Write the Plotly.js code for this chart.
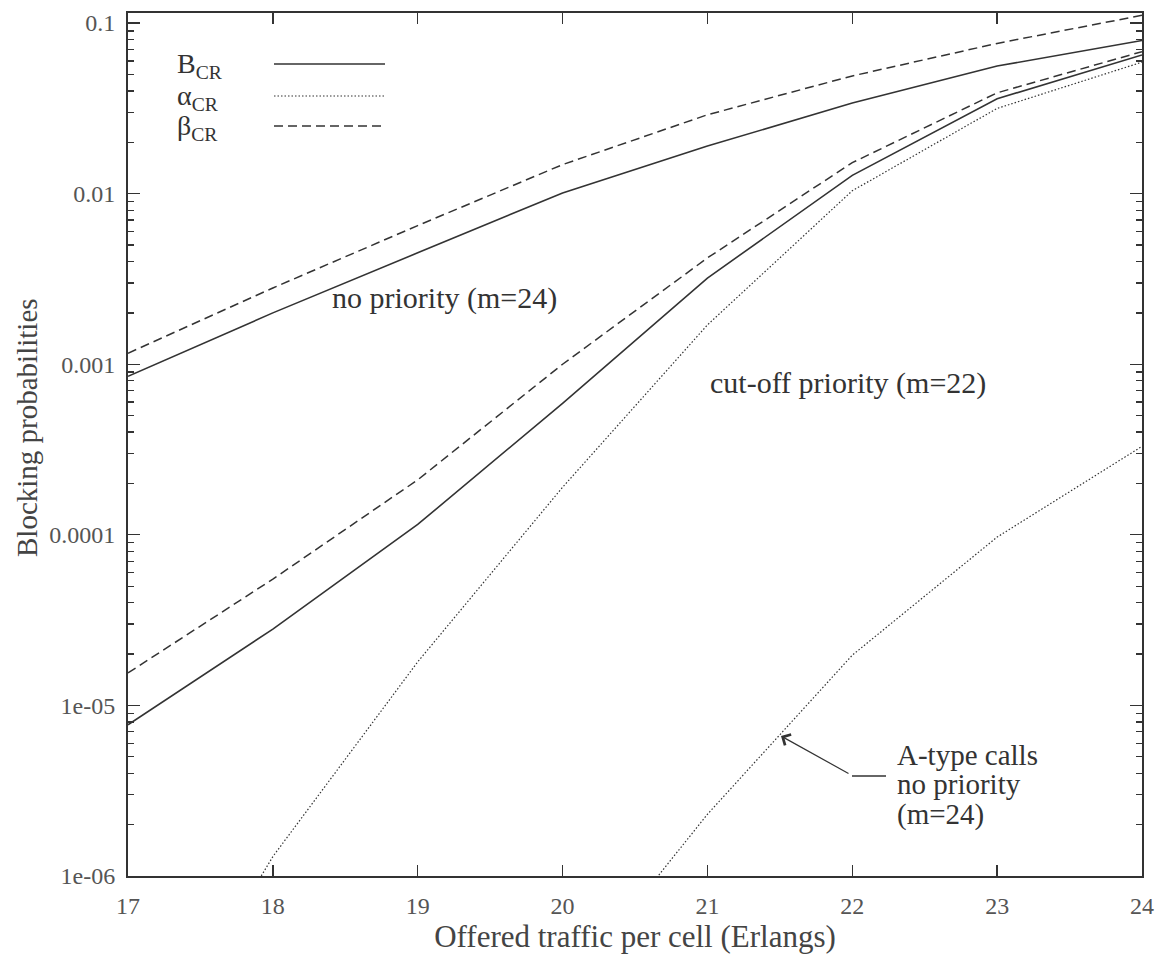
<!DOCTYPE html>
<html>
<head>
<meta charset="utf-8">
<script src="https://cdn.plot.ly/plotly-3.0.1.min.js"></script>
<style>html,body{margin:0;padding:0;background:#fff;}#chart{width:1164px;height:962px;}</style>
</head>
<body>
<div id="chart"></div>
<script>
// ---- data ----
const traffic = [17, 18, 19, 20, 21, 22, 23, 24];
const noPriorityB = [0.00085, 0.002, 0.0045, 0.0101, 0.019, 0.034, 0.056, 0.079];
const noPriorityBeta = [0.00116, 0.0028, 0.0065, 0.0148, 0.029, 0.049, 0.076, 0.111];
const trafficAType = [20, 21, 22, 23, 24];
const noPriorityAlpha = [2e-7, 2.3e-6, 1.97e-5, 9.7e-5, 3.3e-4];
const cutoffB = [7.7e-6, 2.8e-5, 1.15e-4, 5.9e-4, 3.2e-3, 0.0128, 0.036, 0.065];
const cutoffBeta = [1.55e-5, 5.5e-5, 2.1e-4, 1.0e-3, 4.2e-3, 0.0152, 0.039, 0.068];
const cutoffAlpha = [5e-8, 1.3e-6, 1.8e-5, 1.9e-4, 1.7e-3, 0.0104, 0.0316, 0.059];

const yTickVals = [1e-6, 1e-5, 1e-4, 1e-3, 1e-2, 1e-1];
const yTickText = ['1e-06', '1e-05', '0.0001', '0.001', '0.01', '0.1'];
const xTickVals = [17, 18, 19, 20, 21, 22, 23, 24];
const xTickText = ['17', '18', '19', '20', '21', '22', '23', '24'];

const legendLabels = ['B<sub>CR</sub>', 'α<sub>CR</sub>', 'β<sub>CR</sub>'];
const aTypeLines = ['A-type calls', 'no priority', '(m=24)'];

// ---- styling ----
const INK = '#333';
const FONT = 'Liberation Serif';
const solid = {color: INK, width: 1.6, dash: 'solid'};
const dotted = {color: INK, width: 1.2, dash: '1.5px,2px'};
const dashed = {color: INK, width: 1.5, dash: '9px,5px'};

const minorVals = [];
for (let e = -6; e <= -1; e++) for (let m = 2; m <= 9; m++) minorVals.push(m * Math.pow(10, e));

const traces = [
  {x: traffic, y: noPriorityB, mode: 'lines', line: solid},
  {x: traffic, y: noPriorityBeta, mode: 'lines', line: dashed},
  {x: trafficAType, y: noPriorityAlpha, mode: 'lines', line: dotted},
  {x: traffic, y: cutoffB, mode: 'lines', line: solid},
  {x: traffic, y: cutoffBeta, mode: 'lines', line: dashed},
  {x: traffic, y: cutoffAlpha, mode: 'lines', line: dotted}
];

// plot area in pixels: left 128, right 1142, top 13, bottom 876
const L = 128, R = 22, T = 13, B = 86, W = 1164, H = 962;
const pw = W - L - R, ph = H - T - B;
const px = v => (v - L) / pw;
const py = v => (H - B - v) / ph;

const legendStyles = [solid, dotted, dashed];
const legendY = [64, 96, 126];
const shapes = legendStyles.map((s, i) => ({
  type: 'line', xref: 'paper', yref: 'paper',
  x0: px(274), x1: px(385), y0: py(legendY[i]), y1: py(legendY[i]),
  line: s
}));
shapes.push({type: 'line', xref: 'paper', yref: 'paper',
  x0: px(852), x1: px(886), y0: py(776), y1: py(776), line: {color: INK, width: 1.3}});

const annFont = {family: FONT, size: 30, color: INK};
const annotations = legendLabels.map((t, i) => ({
  xref: 'paper', yref: 'paper', x: px(175), y: py(legendY[i] + 1),
  xanchor: 'left', yanchor: 'middle', showarrow: false, text: t,
  font: {family: FONT, size: 28, color: INK}
}));
annotations.push(
  {xref: 'paper', yref: 'paper', x: px(330), y: py(298), xanchor: 'left', yanchor: 'middle',
   showarrow: false, text: 'no priority (m=24)', font: annFont},
  {xref: 'paper', yref: 'paper', x: px(708), y: py(383), xanchor: 'left', yanchor: 'middle',
   showarrow: false, text: 'cut-off priority (m=22)', font: annFont}
);
const aTypeY = [755, 784, 814];
aTypeLines.forEach((t, i) => annotations.push({
  xref: 'paper', yref: 'paper', x: px(895), y: py(aTypeY[i]), xanchor: 'left', yanchor: 'middle',
  showarrow: false, text: t, font: {family: FONT, size: 29, color: INK}
}));
annotations.push(
  {xref: 'paper', yref: 'paper', x: px(781), y: py(736), ax: 72, ay: 40,
   showarrow: true, text: ' ', arrowhead: 4, arrowsize: 2, arrowwidth: 1.2,
   arrowcolor: INK, standoff: 0, startstandoff: 0},
  {xref: 'paper', yref: 'paper', x: px(27), y: py(428), xanchor: 'center', yanchor: 'middle',
   textangle: -90, showarrow: false, text: 'Blocking probabilities',
   font: {family: FONT, size: 29, color: '#444'}}
);

const layout = {
  width: W, height: H,
  margin: {l: L, r: R, t: T, b: B, pad: 0},
  paper_bgcolor: '#fff', plot_bgcolor: '#fff',
  showlegend: false,
  font: {family: FONT, color: '#555', size: 24},
  xaxis: {
    range: [17, 24], tickmode: 'array', tickvals: xTickVals, ticktext: xTickText,
    ticks: 'inside', ticklen: 11, tickwidth: 1.3, tickcolor: INK,
    showline: true, linewidth: 2, linecolor: INK, mirror: 'ticks',
    showgrid: false, zeroline: false,
    tickfont: {family: FONT, size: 24, color: '#555'},
    ticklabelstandoff: 7,
    title: {text: 'Offered traffic per cell (Erlangs)', font: {family: FONT, size: 31, color: '#444'}, standoff: 8}
  },
  yaxis: {
    type: 'log', range: [-6, -0.941], tickmode: 'array', tickvals: yTickVals, ticktext: yTickText,
    ticks: 'inside', ticklen: 12, tickwidth: 1.3, tickcolor: INK,
    minor: {tickmode: 'array', tickvals: minorVals, ticks: 'inside', ticklen: 6, tickwidth: 1.3, tickcolor: INK, showgrid: false},
    showline: true, linewidth: 2, linecolor: INK, mirror: 'ticks',
    showgrid: false, zeroline: false,
    tickfont: {family: FONT, size: 24, color: '#555'},
    ticklabelstandoff: 6
  },
  shapes: shapes,
  annotations: annotations
};

Plotly.newPlot('chart', traces, layout, {staticPlot: true, displayModeBar: false});
</script>
</body>
</html>
